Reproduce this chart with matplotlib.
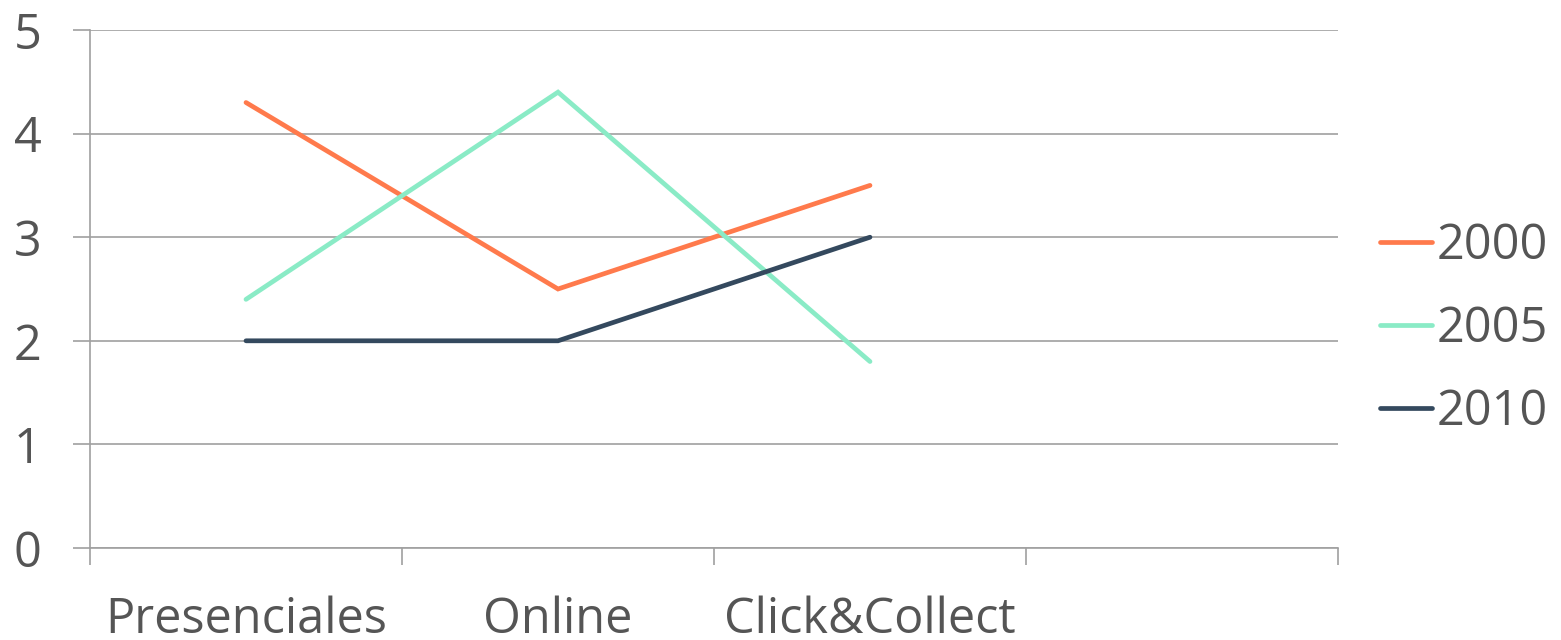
import matplotlib.pyplot as plt

categories = ["Presenciales", "Online", "Click&Collect", ""]
series_names = ["2000", "2005", "2010"]
values_2000 = [4.3, 2.5, 3.5]
values_2005 = [2.4, 4.4, 1.8]
values_2010 = [2.0, 2.0, 3.0]
colors = ["#FF7A4C", "#8AEBC6", "#34495E"]

plt.rcParams['font.family'] = ['Open Sans', 'DejaVu Sans']
text_color = "#555555"
grid_color = "#A0A0A0"
fs = 35

fig = plt.figure(figsize=(15.61, 6.4), dpi=100)
ax = fig.add_axes([90 / 1561, 92 / 640, 1248 / 1561, 518 / 640])

for name, vals, c in zip(series_names, [values_2000, values_2005, values_2010], colors):
    ax.plot(range(len(vals)), vals, color=c, lw=3.4, solid_capstyle="round",
            solid_joinstyle="miter", label=name)

ax.set_xlim(-0.5, len(categories) - 0.5)
ax.set_ylim(0, 5)

# category boundaries as tick marks, labels at centres
ax.set_xticks([i - 0.5 for i in range(len(categories) + 1)])
ax.set_xticklabels([])
ax.set_xticks(range(len(categories)), minor=True)
ax.set_xticklabels(categories, minor=True)
ax.tick_params(axis="x", which="major", length=12, width=1.2, color=grid_color)
ax.tick_params(axis="x", which="minor", length=0, pad=34, labelsize=fs, labelcolor=text_color)

ax.set_yticks(range(6))
ax.tick_params(axis="y", length=12, width=1.2, color=grid_color, pad=23,
               labelsize=fs, labelcolor=text_color)
ax.yaxis.grid(True, color=grid_color, lw=1.2)
ax.set_axisbelow(True)

for s in ["top", "right"]:
    ax.spines[s].set_visible(False)
ax.spines["left"].set_color(grid_color)
ax.spines["bottom"].set_color(grid_color)
ax.spines["left"].set_linewidth(1.2)
ax.spines["bottom"].set_linewidth(1.2)
ax.spines["left"].set_bounds(0, 5)

leg = ax.legend(loc="center left", bbox_to_anchor=(1.0, 0.423), frameon=False,
                fontsize=fs, handlelength=1.07, handletextpad=0.1, labelspacing=0.69,
                borderaxespad=0.46)
for t in leg.get_texts():
    t.set_color(text_color)

fig.savefig("out.png", dpi=100)
